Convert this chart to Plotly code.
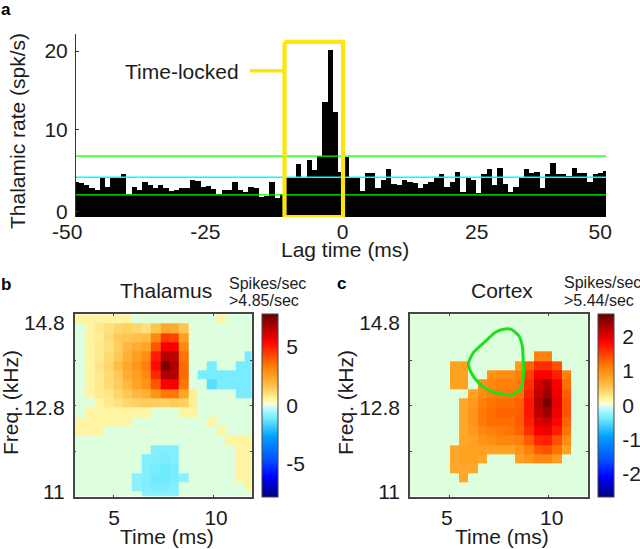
import numpy as np
import plotly.graph_objects as go

W, H = 640, 549

# ---- panel a: histogram
lag_ms = list(range(-50, 51))
rate = [3.5,3.3,3.1,2.75,2.4,4.0,2.85,3.9,4.1,4.4,1.9,2.85,2.5,3.4,3.1,2.75,3.1,2.75,2.3,2.5,
        2.7,2.7,3.7,3.6,2.8,2.9,2.6,2.0,2.5,2.5,3.5,2.5,2.15,2.85,2.75,1.6,1.7,3.5,1.4,2.0,
        4.1,4.1,5.7,4.1,6.2,5.0,6.7,13.5,20.0,12.3,4.67,6.55,4.1,4.1,2.35,4.55,4.55,2.75,3.7,5.05,
        3.25,3.05,3.7,3.4,3.35,2.7,3.2,3.4,4.1,4.4,2.85,3.4,4.7,2.2,3.9,3.75,2.05,4.4,5.05,3.05,
        5.2,3.2,2.2,2.85,3.9,5.05,4.6,4.7,2.7,4.5,5.85,4.4,4.4,4.25,5.2,4.55,4.55,3.5,4.4,4.6,4.85]
upper_band = 6.7
mean_rate = 4.05
lower_band = 1.85
lag_label_pos = [-25.6, 0.3, 25.6, 48.9]
lag_labels = ["-25", "0", "25", "50"]

# ---- panel b: thalamus strf (rows top to bottom, 19 columns)
thalamus = [
 [.6,.6,.6,.6,.6,.6,0,0,0,0,0,0,0,0,0,.6,0,0,0],
 [0,.6,.8,1.0,1.2,1.3,1.2,1.0,1.6,2.3,2.2,1.6,0,0,0,0,0,0,0],
 [0,.6,.7,1.1,1.5,1.6,1.7,1.8,3.0,4.5,4.3,2.5,0,0,0,0,0,0,0],
 [0,.6,.8,1.0,1.4,1.9,2.2,2.4,4.0,5.5,5.5,3.0,0,0,0,0,0,0,0],
 [0,.6,.8,1.1,1.5,2.1,2.5,2.9,5.0,6.6,6.5,3.5,0,0,0,0,0,0,-1.0],
 [0,.6,.9,1.2,1.8,2.3,2.7,3.3,5.3,7.6,6.8,3.7,0,0,-1.0,0,0,-1.0,-1.0],
 [0,.6,.8,1.1,1.5,2.2,2.5,3.0,4.8,6.8,6.6,3.7,0,-1.0,-1.0,-1.0,-1.0,-1.0,-1.0],
 [0,.6,.8,1.1,1.4,1.9,2.4,2.8,4.0,5.5,5.5,3.4,0,0,-1.4,-1.0,-1.0,-1.0,-1.0],
 [0,.6,.8,.9,1.2,1.5,1.9,2.1,2.8,3.4,3.4,2.4,.7,0,0,0,0,-1.0,-1.0],
 [0,0,.6,.8,1.0,1.2,1.3,1.4,1.4,1.3,1.5,1.3,.7,0,0,0,0,0,0],
 [0,.6,.6,.6,.6,.6,.6,.6,0,0,0,.6,.6,0,0,0,0,0,0],
 [.6,.6,.6,.6,.6,.6,0,0,0,0,0,0,0,0,.6,0,0,0,0],
 [.6,.6,.6,0,0,0,0,0,0,0,0,0,0,0,0,.6,0,0,0],
 [0,0,0,0,0,0,0,0,0,0,0,0,0,0,0,0,.6,.6,.6],
 [0,0,0,0,0,0,0,0,-.9,-.9,-.9,0,0,0,0,0,0,.6,.6],
 [0,0,0,0,0,0,0,-.9,-.9,-1.0,-.9,0,0,0,0,0,0,.6,.6],
 [0,0,0,0,0,0,0,-.9,-1.0,-1.1,-1.0,0,0,0,0,0,0,.6,.6],
 [0,0,0,0,0,0,-.8,-.9,-1.1,-1.1,-1.0,-.8,0,0,0,0,0,.6,.6],
 [0,0,0,0,0,0,-.8,-.9,-1.0,-1.0,-.9,0,0,0,0,0,0,0,.6],
 [0,0,0,0,0,0,0,-.8,-.8,-.8,-.8,0,0,0,0,0,0,0,0],
]

# ---- panel c: cortex strf
cortex = [
 [0]*19,
 [0]*19,
 [0]*19,
 [0]*19,
 [0,0,0,0,0,0,0,0,0,0,0,0,0,1.1,1.1,0,0,0,0],
 [0,0,0,0,.85,.85,0,0,0,0,0,.9,1.3,1.6,1.6,1.4,0,0,0],
 [0,0,0,0,.85,.85,0,0,.95,1.0,1.0,1.1,1.5,1.9,1.9,1.7,1.1,0,0],
 [0,0,0,0,.85,.85,0,1.0,1.05,1.1,1.1,1.15,1.6,2.1,2.3,1.9,1.25,0,0],
 [0,0,0,0,0,0,.85,1.0,1.1,1.15,1.15,1.2,1.7,2.2,2.4,1.95,1.35,0,0],
 [0,0,0,0,0,.8,.9,1.1,1.2,1.25,1.25,1.3,1.75,2.3,2.6,2.0,1.4,0,0],
 [0,0,0,0,0,.8,.95,1.15,1.25,1.3,1.3,1.35,1.75,2.2,2.4,1.95,1.4,0,0],
 [0,0,0,0,0,.8,.95,1.15,1.25,1.25,1.25,1.35,1.7,2.05,2.15,1.85,1.3,0,0],
 [0,0,0,0,0,.8,.9,1.05,1.1,1.15,1.2,1.3,1.6,1.9,1.95,1.7,1.2,0,0],
 [0,0,0,0,0,.8,.85,.95,1.0,1.05,1.05,1.1,1.35,1.65,1.7,1.4,1.0,0,0],
 [0,0,0,0,.8,.85,.85,.85,.85,.85,.85,.95,1.1,1.35,1.4,1.2,.85,0,0],
 [0,0,0,0,.8,.85,.85,.8,0,0,0,.85,.95,1.05,1.05,.9,0,0,0],
 [0,0,0,0,.8,.8,.8,0,0,0,0,0,0,0,0,0,0,0,0],
 [0,0,0,0,0,.8,0,0,0,0,0,0,0,0,0,0,0,0,0],
 [0]*19,
 [0]*19,
]

# green outline on panel c (time in ms, frequency row)
outline_t = [5.95,6.2,6.79,7.3,7.72,8.11,8.51,8.68,8.73,8.73,8.61,8.14,7.64,6.96,6.45,6.11,5.95]
outline_r = [5.25,4.11,2.93,1.96,1.61,1.61,2.32,3.46,5.25,6.68,7.93,8.64,8.54,8.11,7.32,6.32,5.25]

freq_labels = ["14.8", "12.8", "11"]
time_labels = ["5", "10"]
strf_limit_b = 7.8
strf_limit_c = 2.67

colors = [[0,"#00007F"],[.11,"#0000FF"],[.2,"#0050FF"],[.33,"#00A0FF"],[.43,"#70EBFF"],
          [.495,"#D0FFFF"],[.5,"#DDFFDD"],[.505,"#FFFFD0"],[.54,"#FFF3A0"],[.585,"#FFD060"],
          [.66,"#FFA020"],[.73,"#FF7000"],[.85,"#FF0000"],[1,"#6A0000"]]

FONT = "Liberation Sans"
INK = "#1c1c1c"
FRAME = "#454545"

def xdom(a, b):
    return [a / W, b / W]

def ydom(top, bottom):
    return [1 - bottom / H, 1 - top / H]

def r_of(py, top=314.3):
    return (py - top) / 9.33

fig = go.Figure()

# panel a
fig.add_trace(go.Bar(x=lag_ms, y=np.array(rate) + 1, base=-1, width=1.0, marker=dict(color="black", line_width=0),
                     xaxis="x", yaxis="y", showlegend=False))
for level, col, wid in [(upper_band, "#00FF00", 1.2), (lower_band, "#00FF00", 1.2), (mean_rate, "#00FFFF", 1.5)]:
    fig.add_trace(go.Scatter(x=[-50, 50], y=[level, level], mode="lines", line=dict(color=col, width=wid),
                             xaxis="x", yaxis="y", showlegend=False))
YEL = "#FFE60A"
fig.add_trace(go.Scatter(x=[-10.66, 0.38, 0.38, -10.66, -10.66], y=[21.04, 21.04, -0.94, -0.94, 21.04],
                         mode="lines", line=dict(color=YEL, width=4.2), xaxis="x", yaxis="y", showlegend=False))
fig.add_trace(go.Scatter(x=[-17.2, -10.66], y=[17.44, 17.44], mode="lines", line=dict(color=YEL, width=3.5),
                         xaxis="x", yaxis="y", showlegend=False))

row_edges = list(range(20)) + [19.54]
b_edges = [3.04] + [3.57 + 0.47 * k for k in range(18)] + [11.93]
c_edges = [2.99] + [3.58 + 0.473 * k for k in range(18)] + [11.99]

def cbar(left, ticks, texts):
    return dict(x=left / W, xanchor="left", xref="paper", xpad=0, ypad=0,
                y=1 - 496.9 / H, yanchor="bottom", yref="paper",
                lenmode="pixels", len=183, thicknessmode="pixels", thickness=16,
                outlinecolor=FRAME, outlinewidth=1,
                tickmode="array", tickvals=ticks, ticktext=texts,
                ticks="outside", ticklen=4, tickcolor="rgba(0,0,0,0)", tickwidth=1,
                tickfont=dict(family=FONT, size=21, color=INK))

fig.add_trace(go.Heatmap(z=thalamus, x=b_edges, y=row_edges, zmin=-strf_limit_b, zmax=strf_limit_b,
                         colorscale=colors, xaxis="x2", yaxis="y2",
                         colorbar=cbar(262.3, [5, 0, -5], ["5", "0", "-5"])))
fig.add_trace(go.Heatmap(z=cortex, x=c_edges, y=row_edges, zmin=-strf_limit_c, zmax=strf_limit_c,
                         colorscale=colors, xaxis="x3", yaxis="y3",
                         colorbar=cbar(598.3, [2, 1, 0, -1, -2], ["2", "1", "0", "-1", "-2"])))
fig.add_trace(go.Scatter(x=outline_t, y=outline_r, mode="lines", line=dict(color="#1FE01F", width=3, shape="spline", smoothing=0.6),
                         xaxis="x3", yaxis="y3", showlegend=False))

tick_font = dict(family=FONT, size=21, color=INK)

def strf_axes(xd, xr, time_label_pos):
    xa = dict(domain=xd, range=xr, tickmode="array", tickvals=time_label_pos, ticktext=time_labels,
              ticks="", tickfont=tick_font,
              showgrid=False, zeroline=False, showline=True, linecolor=FRAME, linewidth=1.5, mirror="ticks",
              ticklabelstandoff=1,
              minor=dict(tickmode="array", tickvals=[5, 10], ticks="inside", ticklen=2,
                         tickcolor=FRAME, tickwidth=1, showgrid=False))
    ya = dict(domain=ydom(314.3, 496.7), range=[19.54, 0], tickmode="array",
              tickvals=[r_of(323), r_of(408), r_of(491.5)], ticktext=freq_labels,
              ticks="", tickfont=tick_font, showgrid=False, zeroline=False,
              showline=True, linecolor=FRAME, linewidth=1.5, mirror="ticks", ticklabelstandoff=4,
              minor=dict(tickmode="array", tickvals=[4.9, 9.75, 14.68], ticks="inside", ticklen=2,
                         tickcolor=FRAME, tickwidth=1, showgrid=False))
    return xa, ya

xa2, ya2 = strf_axes(xdom(74.7, 252), [3.04, 11.93], [5.01, 10.13])
xa3, ya3 = strf_axes(xdom(410, 587.7), [2.99, 11.99], [4.85, 10.17])
ya2["anchor"] = "x2"; xa2["anchor"] = "y2"
ya3["anchor"] = "x3"; xa3["anchor"] = "y3"

def note(text, px, py, size=21, anchor="center", bold=False, angle=0):
    t = f"<b>{text}</b>" if bold else text
    return dict(text=t, x=px / W, y=1 - py / H, xref="paper", yref="paper", showarrow=False,
                xanchor=anchor, yanchor="middle", textangle=angle,
                font=dict(family=FONT, size=size, color="#000" if bold else INK))

annots = [
    note("a", 6, 10, 17, bold=True),
    note("b", 6, 284, 17, bold=True),
    note("c", 341, 283, 17, bold=True),
    note("-50", 67, 231),
    note("Lag time (ms)", 345, 249),
    note("Thalamic rate (spk/s)", 17, 131, angle=-90),
    note("Freq. (kHz)", 10, 403, angle=-90),
    note("Freq. (kHz)", 345, 403, angle=-90),
    note("Time (ms)", 167, 536),
    note("Time (ms)", 501.7, 536),
    note("Time-locked", 181.5, 71),
    note("Thalamus", 166, 290),
    note("Cortex", 501.7, 290),
    note("Spikes/sec", 227, 283, 16, "left"),
    note("&gt;4.85/sec", 227, 300, 16, "left"),
    note("Spikes/sec", 562, 282, 16, "left"),
    note("&gt;5.44/sec", 562, 300, 16, "left"),
]

fig.update_layout(
    width=W, height=H, autosize=False,
    margin=dict(l=0, r=0, t=0, b=0, autoexpand=False),
    paper_bgcolor="white", plot_bgcolor="white",
    bargap=0, showlegend=False,
    font=dict(family=FONT),
    annotations=annots,
    xaxis=dict(domain=xdom(76, 606), range=[-50, 50], anchor="y", tickmode="array",
               tickvals=lag_label_pos, ticktext=lag_labels, ticks="", tickfont=tick_font,
               showgrid=False, zeroline=False, showline=False, ticklabelstandoff=0),
    yaxis=dict(domain=ydom(34, 217), range=[-0.94, 22.04], anchor="x", tickmode="array",
               tickvals=[-0.3, 10, 19.9], ticktext=["0", "10", "20"], ticks="inside", ticklen=3,
               tickcolor="#333", tickfont=tick_font, showgrid=False, zeroline=False,
               showline=True, linecolor="#333", linewidth=1, ticklabelstandoff=3),
    xaxis2=xa2, yaxis2=ya2, xaxis3=xa3, yaxis3=ya3,
)

fig.write_html("out.html", config=dict(displayModeBar=False),
               post_script="document.body.style.margin='0';document.body.style.overflow='hidden';")
